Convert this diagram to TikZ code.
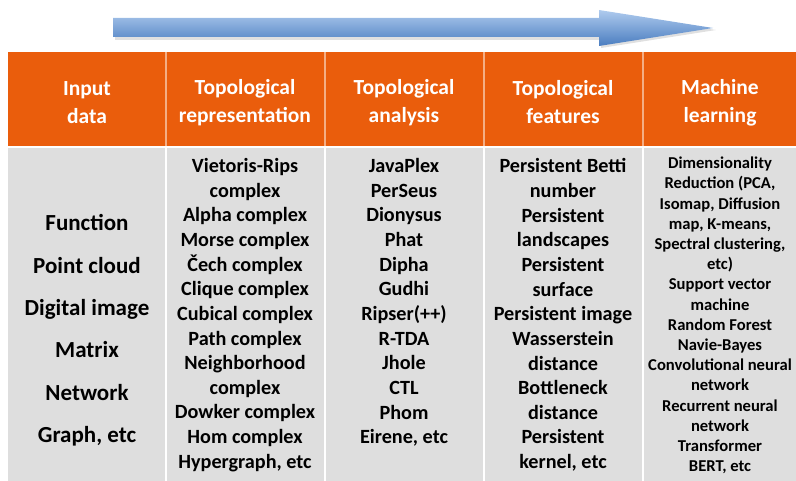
\documentclass[tikz,border=0pt]{standalone}
\usepackage{fontspec}
\setmainfont{Carlito}
\definecolor{hdrorange}{HTML}{EA5D0C}
\definecolor{bodygray}{HTML}{DEDEDE}
\definecolor{arrowtop}{HTML}{AFCBEE}
\definecolor{arrowbot}{HTML}{4A7DC0}
\begin{document}
\begin{tikzpicture}[x=1pt,y=-1pt,
  hdr/.style={text=white,align=center,inner sep=0pt,font=\bfseries\fontsize{21.5}{28}\selectfont},
  cell/.style={text=black,align=center,inner sep=0pt,font=\bfseries\fontsize{20.2}{24.65}\selectfont},
  cellbig/.style={text=black,align=center,inner sep=0pt,font=\bfseries\fontsize{23}{42.4}\selectfont},
  cellsmall/.style={text=black,align=center,inner sep=0pt,font=\bfseries\fontsize{16.6}{20.2}\selectfont},
  sep/.style={white,line width=1.6pt}]
\useasboundingbox (0,0) rectangle (796,481);
% arrow
\fill[black!12] (115,20) -- (601,20) -- (601,12) -- (716,30) -- (601,48) -- (601,40) -- (115,40) -- cycle;
\shade[top color=arrowtop,bottom color=arrowbot] (113,18) -- (599,18) -- (599,10) -- (713,28) -- (599,46) -- (599,37) -- (113,37) -- cycle;
% table backgrounds
\fill[hdrorange] (8,52) rectangle (796,146);
\fill[bodygray] (8,148) rectangle (796,481);
\foreach \x in {166,325,484,643}{
  \draw[white,opacity=0.5,line width=1.6pt] (\x,52) -- (\x,146);
  \draw[sep] (\x,148) -- (\x,481);
}
% headers
\node[hdr] (h1) at (87,102.5) {Input\\data};
\node[hdr] (h2) at (245,102.5) {Topological\\representation};
\node[hdr] (h3) at (404,102.5) {Topological\\analysis};
\node[hdr] (h4) at (563,102.5) {Topological\\features};
\node[hdr] (h5) at (720,102.5) {Machine\\learning};
% body
\node[cellbig] (c1) at (87,330.5) {Function\\Point cloud\\Digital image\\Matrix\\Network\\Graph, etc};
\node[cell] (c2) at (245,315) {Vietoris-Rips\\complex\\Alpha complex\\Morse complex\\Čech complex\\Clique complex\\Cubical complex\\Path complex\\Neighborhood\\complex\\Dowker complex\\Hom complex\\Hypergraph, etc};
\node[cell] (c3) at (404,302.5) {JavaPlex\\PerSeus\\Dionysus\\Phat\\Dipha\\Gudhi\\Ripser(++)\\R-TDA\\Jhole\\CTL\\Phom\\Eirene, etc};
\node[cell] (c4) at (563,315) {Persistent Betti\\number\\Persistent\\landscapes\\Persistent\\surface\\Persistent image\\Wasserstein\\distance\\Bottleneck\\distance\\Persistent\\kernel, etc};
\node[cellsmall] (c5) at (720,315.5) {Dimensionality\\Reduction (PCA,\\Isomap, Diffusion\\map, K-means,\\Spectral clustering,\\etc)\\Support vector\\machine\\Random Forest\\Navie-Bayes\\Convolutional neural\\network\\Recurrent neural\\network\\Transformer\\BERT, etc};
\end{tikzpicture}
\end{document}
